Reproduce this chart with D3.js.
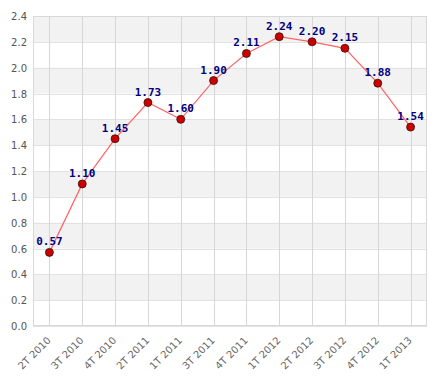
<!DOCTYPE html>
<html>
<head>
<meta charset="utf-8">
<script src="https://cdn.jsdelivr.net/npm/d3@7"></script>
<style>
  body { margin: 0; background: #fff; }
</style>
</head>
<body>
<div id="chart"></div>
<script>
var quarters = ["2T 2010", "3T 2010", "4T 2010", "2T 2011", "1T 2011", "3T 2011",
                "4T 2011", "1T 2012", "2T 2012", "3T 2012", "4T 2012", "1T 2013"];
var values = [0.57, 1.10, 1.45, 1.73, 1.60, 1.90, 2.11, 2.24, 2.20, 2.15, 1.88, 1.54];
var yTicks = [0, 0.2, 0.4, 0.6, 0.8, 1.0, 1.2, 1.4, 1.6, 1.8, 2.0, 2.2, 2.4];

var margin = {top: 16, right: 14, bottom: 57, left: 33}
  , width = 441 - margin.left - margin.right
  , height = 383 - margin.top - margin.bottom;

var xScale = d3.scalePoint()
    .domain(quarters)
    .range([0, width])
    .padding(0.5);

var yScale = d3.scaleLinear()
    .domain([0, 2.4])
    .range([height, 0]);

var svg = d3.select("#chart").append("svg")
    .attr("width", 441)
    .attr("height", 383)
    .append("g")
    .attr("transform", "translate(" + margin.left + "," + margin.top + ")");

// alternating bands
for (var i = 0; i < yTicks.length - 1; i++) {
    if (i % 2 == 1) {
        svg.append("rect")
            .attr("x", 0)
            .attr("y", yScale(yTicks[i + 1]))
            .attr("width", width)
            .attr("height", yScale(yTicks[i]) - yScale(yTicks[i + 1]))
            .style("fill", "#f2f2f2");
    }
}

// horizontal grid
svg.selectAll(".hgrid").data(yTicks).enter().append("line")
    .attr("x1", 0).attr("x2", width)
    .attr("y1", function(d) { return Math.round(yScale(d)) + 0.5; })
    .attr("y2", function(d) { return Math.round(yScale(d)) + 0.5; })
    .attr("stroke", "#e2e2e2");

// vertical grid
svg.selectAll(".vgrid").data(quarters).enter().append("line")
    .attr("y1", 0).attr("y2", height)
    .attr("x1", function(d) { return Math.round(xScale(d)) + 0.5; })
    .attr("x2", function(d) { return Math.round(xScale(d)) + 0.5; })
    .attr("stroke", "#d6d6d6");

// frame
svg.append("rect")
    .attr("x", 0.5).attr("y", 0.5)
    .attr("width", width - 1).attr("height", height - 1)
    .style("fill", "none")
    .attr("stroke", "#d8d8d8");

// y axis labels
svg.selectAll(".ylab").data(yTicks).enter().append("text")
    .attr("x", -6)
    .attr("y", function(d) { return yScale(d) + 4; })
    .attr("text-anchor", "end")
    .style("font-family", "DejaVu Sans, sans-serif")
    .style("font-size", "10px")
    .style("fill", "#555")
    .text(function(d) { return d.toFixed(1); });

// x axis labels
svg.selectAll(".xlab").data(quarters).enter().append("text")
    .attr("transform", function(d) {
        return "translate(" + (xScale(d) + 2) + "," + (height + 15) + ") rotate(-45)";
    })
    .attr("text-anchor", "end")
    .style("font-family", "DejaVu Sans, sans-serif")
    .style("font-size", "10px")
    .style("fill", "#666")
    .text(function(d) { return d; });

var line = d3.line()
    .x(function(d, i) { return xScale(quarters[i]); })
    .y(function(d) { return yScale(d); });

svg.append("path")
    .datum(values)
    .attr("d", line)
    .attr("fill", "none")
    .attr("stroke", "#ff6464")
    .attr("stroke-width", 1.2);

svg.selectAll(".pt").data(values).enter().append("circle")
    .attr("cx", function(d, i) { return xScale(quarters[i]); })
    .attr("cy", function(d) { return yScale(d); })
    .attr("r", 4)
    .attr("fill", "#cc0000")
    .attr("stroke", "#331111")
    .attr("stroke-width", 0.8);

svg.selectAll(".val").data(values).enter().append("text")
    .attr("x", function(d, i) { return xScale(quarters[i]); })
    .attr("y", function(d) { return yScale(d) - 7; })
    .attr("text-anchor", "middle")
    .style("font-family", "DejaVu Sans Mono, monospace")
    .style("font-weight", "bold")
    .style("font-size", "11px")
    .style("fill", "#000080")
    .text(function(d) { return d.toFixed(2); });
</script>
</body>
</html>
